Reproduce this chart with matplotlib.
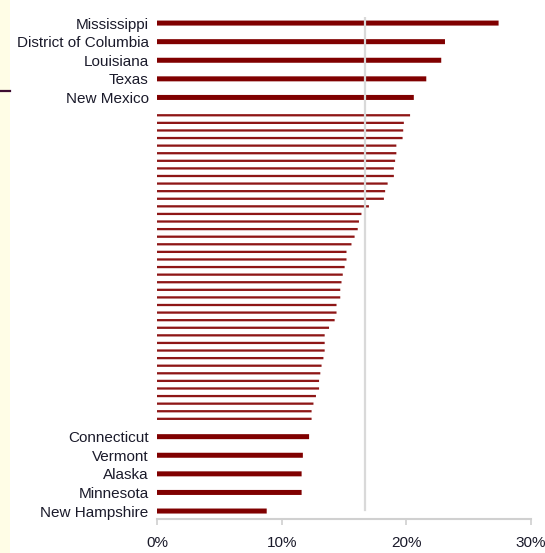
import matplotlib
matplotlib.use("Agg")
import matplotlib.pyplot as plt
from matplotlib.patches import Rectangle
from matplotlib.lines import Line2D
import numpy as np

plt.rcParams['font.family'] = ['Liberation Sans', 'DejaVu Sans']

# Share of population, ranked from highest to lowest (50 states + DC)
top_states = ["Mississippi", "District of Columbia", "Louisiana", "Texas", "New Mexico"]
top_values = [27.4, 23.1, 22.8, 21.6, 20.6]

middle_values = [20.3, 19.8, 19.75, 19.7, 19.2, 19.2, 19.1, 19.0, 19.0, 18.5,
                 18.3, 18.2, 17.0, 16.4, 16.2, 16.1, 15.85, 15.6, 15.2, 15.2,
                 15.05, 14.9, 14.8, 14.7, 14.7, 14.4, 14.4, 14.25, 13.8, 13.45,
                 13.45, 13.45, 13.35, 13.2, 13.1, 13.0, 13.0, 12.75, 12.55, 12.4,
                 12.4]

bottom_states = ["Connecticut", "Vermont", "Alaska", "Minnesota", "New Hampshire"]
bottom_values = [12.2, 11.7, 11.6, 11.6, 8.8]

average = 16.7
x_ticks = [0, 10, 20, 30]
x_tick_labels = ["0%", "10%", "20%", "30%"]

# Row layout: labelled rows get wider spacing than the unlabelled middle rows
wide_step = 2.45
gap = 2.35
top_pos = np.arange(len(top_values)) * wide_step
mid_pos = top_pos[-1] + gap + np.arange(len(middle_values))
bot_pos = mid_pos[-1] + gap + np.arange(len(bottom_values)) * wide_step

fig = plt.figure(figsize=(5.45, 5.53), dpi=100)
fig.patch.set_facecolor("white")

# pale strip down the left edge with a short accent rule
fig.patches.append(Rectangle((0, 0), 9.5 / 545, 1, transform=fig.transFigure,
                             facecolor="#fffde6", edgecolor="none", zorder=0))
fig.lines.append(Line2D([0, 9.5 / 545], [1 - 91 / 553, 1 - 91 / 553],
                        transform=fig.transFigure, color="#3d0c2f", linewidth=1.6))

ax = fig.add_axes([157 / 545, 34 / 553, 374 / 545, 502 / 553])
ax.set_facecolor("none")

dark_red = "#800000"
thick_h = 0.66
thin_h = 0.3
ax.barh(top_pos, top_values, height=thick_h, color=dark_red, zorder=2, snap=False)
ax.barh(mid_pos, middle_values, height=thin_h, color="#8e1616", zorder=2, snap=False)
ax.barh(bot_pos, bottom_values, height=thick_h, color=dark_red, zorder=2, snap=False)

ax.axvline(average, ymin=9 / 502, ymax=1, color="#d9d9d9", linewidth=1.6, zorder=3)

ax.set_xlim(0, 30)
ax.set_ylim(bot_pos[-1] + 1.05, -0.8)

ax.set_yticks(list(top_pos) + list(bot_pos))
ax.set_yticklabels(top_states + bottom_states, fontsize=11, color="#1a1a2a")
ax.tick_params(axis="y", length=0, pad=6)

ax.set_xticks(x_ticks)
ax.set_xticklabels(x_tick_labels, fontsize=11, color="#1a1a2a")
ax.tick_params(axis="x", length=4, width=1.2, color="#d0d0d0", pad=8)

for side in ["top", "right", "left"]:
    ax.spines[side].set_visible(False)
ax.spines["bottom"].set_color("#d0d0d0")
ax.spines["bottom"].set_linewidth(1.5)

fig.savefig("out.png", dpi=100, facecolor="white")
